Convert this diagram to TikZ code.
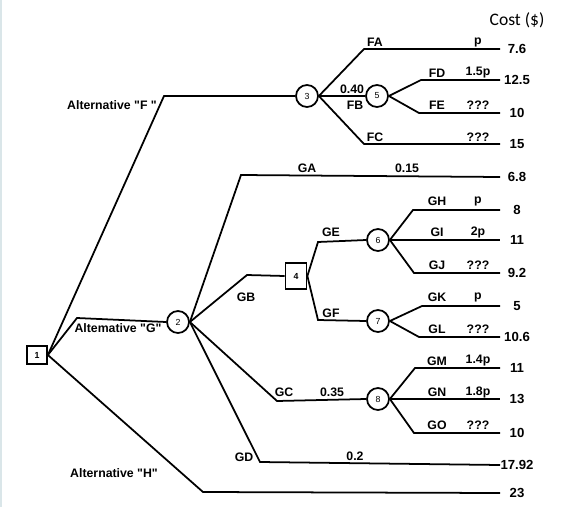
\documentclass[tikz,border=0pt]{standalone}
\usepackage{fontspec}
\setmainfont{Liberation Sans}
\newfontfamily\costfont{Carlito}
\usetikzlibrary{positioning}
\definecolor{cborde}{RGB}{218,230,233}

\begin{document}
\begin{tikzpicture}[x=0.02cm, y=-0.02cm, line width=1pt,
    lab/.style={font=\fontsize{7}{8}\selectfont\bfseries, inner sep=0pt},
    cost/.style={font=\fontsize{7.5}{9}\selectfont\bfseries, inner sep=0pt},
    chance/.style={draw, circle, line width=1pt, minimum size=0.44cm, inner sep=0pt, font=\fontsize{5}{6}\selectfont},
    decision/.style={draw, rectangle, line width=1pt, minimum width=0.4cm, minimum height=0.36cm, inner sep=0pt, font=\fontsize{5}{6}\selectfont\bfseries}]

  \useasboundingbox (0,0) rectangle (588,507);
  \draw[cborde] (1,0) -- (1,507);

  % decision and chance nodes
  \node[decision] (n1) at (37,355) {1};
  \node[chance] (n2) at (178,322) {2};
  \node[chance] (n3) at (307,96) {3};
  \node[decision, minimum width=0.42cm, minimum height=0.52cm] (n4) at (296,276) {4};
  \node[chance] (n5) at (377,96) {5};
  \node[chance] (n6) at (378,240) {6};
  \node[chance] (n7) at (378,321) {7};
  \node[chance] (n8) at (378,399) {8};

  % bends
  \coordinate (aF) at (164,96);
  \coordinate (aG) at (77,318);
  \coordinate (aH) at (203,492);
  \coordinate (bA) at (241,175);
  \coordinate (bB) at (247,275);
  \coordinate (bC) at (277,401);
  \coordinate (bD) at (260,462);
  \coordinate (fA) at (364,49);
  \coordinate (fC) at (364,144);
  \coordinate (fD) at (421,80);
  \coordinate (fE) at (419,113);
  \coordinate (gE) at (318,242);
  \coordinate (gF) at (318,320);
  \coordinate (gH) at (413,210);
  \coordinate (gJ) at (414,273);
  \coordinate (gK) at (422,306);
  \coordinate (gL) at (419,337);
  \coordinate (gM) at (415,368);
  \coordinate (gO) at (414,433);

  % leaves and costs
  \foreach \nm/\y/\c in {FA/49/7.6, FD/80/12.5, FE/113/10, FC/144/15, GA/177/6.8,
      GH/210/8, GI/240/11, GJ/273/9.2, GK/306/5, GL/337/10.6, GM/368/11,
      GN/399/13, GO/433/10, GD/465/17.92, H/493/23} {
    \coordinate (e\nm) at (500,\y);
    \node[cost] (v\nm) at (517,\y) {\c};
  }
  \node[font=\costfont\fontsize{10}{12}\selectfont, inner sep=0pt] (hCost) at (517,20) {Cost (\$)};

  % branches
  \draw (n1.east) -- (aF) -- (n3.west);
  \draw (n1.east) -- (aG) -- (n2.west);
  \draw (n1.east) -- (aH) -- (eH);
  \draw (n2.east) -- (bA) -- (eGA);
  \draw (n2.east) -- (bB) -- (n4.west);
  \draw (n2.east) -- (bC) -- (n8.west);
  \draw (n2.east) -- (bD) -- (eGD);
  \draw (n3.east) -- (fA) -- (eFA);
  \draw (n3.east) -- (n5.west);
  \draw (n3.east) -- (fC) -- (eFC);
  \draw (n5.east) -- (fD) -- (eFD);
  \draw (n5.east) -- (fE) -- (eFE);
  \draw (n4.east) -- (gE) -- (n6.west);
  \draw (n4.east) -- (gF) -- (n7.west);
  \draw (n6.east) -- (gH) -- (eGH);
  \draw (n6.east) -- (eGI);
  \draw (n6.east) -- (gJ) -- (eGJ);
  \draw (n7.east) -- (gK) -- (eGK);
  \draw (n7.east) -- (gL) -- (eGL);
  \draw (n8.east) -- (gM) -- (eGM);
  \draw (n8.east) -- (eGN);
  \draw (n8.east) -- (gO) -- (eGO);

  % labels
  \node[lab] (altF) at (112,105) {Alternative \textquotedbl F \textquotedbl};
  \node[lab] (altG) at (118,328) {Altemative \textquotedbl G\textquotedbl};
  \node[lab] (altH) at (114,473) {Alternative \textquotedbl H\textquotedbl};
  \foreach \t/\x/\y in {FA/375/42, FB/355/105, FC/375/137, FD/437/73, FE/437/105,
      GA/307/168, GB/246/297, GC/284/392, GD/244/457, GE/331/232, GF/331/313,
      GH/437/201, GI/437/232, GJ/437/265, GK/437/297, GL/437/329, GM/437/361,
      GN/437/392, GO/437/425}
    \node[lab] (t\t) at (\x,\y) {\t};
  \foreach \p/\x/\y [count=\i] in {p/478/42, 1.5p/478/73, ???/478/105, ???/478/137,
      0.40/352/89, 0.15/407/168, p/478/201, 2p/478/232, ???/478/265, p/478/297,
      ???/478/329, 0.35/332/392, 1.4p/478/361, 1.8p/478/392, ???/478/425, 0.2/355/456}
    \node[lab] (q\i) at (\x,\y) {\p};
\end{tikzpicture}
\end{document}
